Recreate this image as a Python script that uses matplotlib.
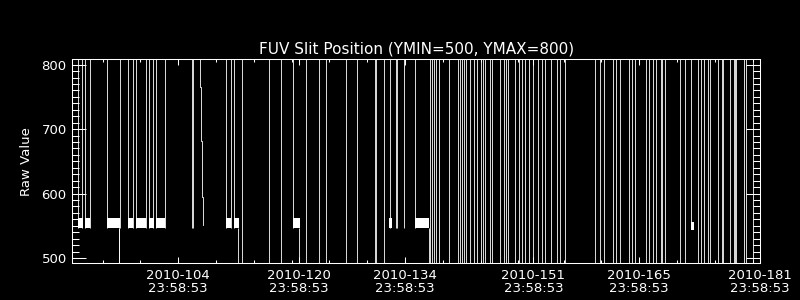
import numpy as np
import matplotlib
matplotlib.use('Agg')
from matplotlib import pyplot as plt
from matplotlib.ticker import MultipleLocator, FixedLocator

# x values are 2010 day-of-year, y values are raw slit position
# lines where the value jumps from below the range to above it
full_days = [112.47, 116.04, 117.62, 120.93, 122.65, 123.58, 126.22, 127.68,
             130.08, 130.2, 131.25,
             137.33, 137.60, 137.82, 138.13, 138.52, 139.85, 140.96, 141.30,
             141.57, 141.83, 142.10, 142.62, 143.15, 143.55, 144.00, 144.26,
             144.53, 145.27, 145.53, 146.59, 147.12, 147.39, 147.65, 148.58,
             149.11, 149.50, 149.90, 150.35, 150.89,
             151.62, 152.15, 152.51, 153.34, 154.13, 154.53, 155.15,
             159.16, 159.87, 160.31, 161.54, 161.94, 162.43, 163.62, 164.05,
             164.45, 165.83, 166.26, 166.83, 167.28, 167.85, 168.07, 168.42,
             170.36, 171.02, 172.78, 173.23, 173.58, 174.03, 174.42, 175.43,
             175.95, 176.07, 177.07, 177.51, 177.62, 177.74, 178.87, 179.19,
             180.02]
# jumps from the ~550 level up past the top
up_days = [90.77, 91.30, 91.70, 92.36, 94.61, 96.33, 97.39, 98.05, 98.44,
           99.76, 100.16, 100.69, 101.09, 102.29, 105.86, 105.99,
           110.35, 110.97, 111.41, 119.21, 132.0, 132.84, 132.97, 133.89,
           135.35, 171.91]
# drops from the ~550 level below the bottom
down_days = [96.1, 96.22, 111.94, 120.01, 137.16]
# stretches where the value flickers around 550
band_start = [90.77, 91.70, 94.57, 97.39, 98.44, 100.16, 101.09,
              110.35, 111.41, 119.21, 131.87, 135.35, 171.86]
band_end = [91.40, 92.36, 96.33, 98.05, 99.79, 100.79, 102.31,
            110.97, 111.99, 120.10, 132.23, 137.16, 172.21]
band_low = [547, 547, 547, 547, 547, 547, 547, 547, 547, 547, 547, 547, 544]
band_high = [562, 562, 562, 562, 562, 562, 562, 562, 562, 562, 562, 562, 556]
base_level = 547
# slow descent after day 106
ramp_days = [106.91, 107.04, 107.17, 107.31]
ramp_values = [810, 766, 681, 595, 551]

tick_days = [104, 120, 134, 151, 165, 181]
tick_labels = ['2010-%d\n23:58:53' % d for d in tick_days]
minor_days = [94, 99, 109, 114, 119, 124, 129, 139, 144, 149, 155, 160,
              170, 175, 180]

plt.rcParams['font.family'] = ['DejaVu Sans']
fig = plt.figure(figsize=(8, 3), dpi=100, facecolor='black')
ax = fig.add_axes([0.09, 0.1233, 0.8606, 0.6784], facecolor='black')

lw = 0.6
ax.vlines(full_days, 0, 1000, colors='white', linewidths=lw)
ax.vlines(up_days, base_level, 1000, colors='white', linewidths=lw)
ax.vlines(down_days, 0, base_level, colors='white', linewidths=lw)
for s, e, lo, hi in zip(band_start, band_end, band_low, band_high):
    ax.fill_between([s, e], lo, hi, color='white', lw=0)
ax.plot(np.repeat(ramp_days, 2), np.repeat(ramp_values, 2)[1:-1],
        color='white', lw=lw)

ax.set_xlim(89.94, 181.04)
ax.set_ylim(492.2, 808.1)

ax.xaxis.set_major_locator(FixedLocator(tick_days))
ax.xaxis.set_minor_locator(FixedLocator(minor_days))
ax.set_xticklabels(tick_labels)
for lab in ax.get_xticklabels():
    lab.set_linespacing(0.95)
ax.yaxis.set_major_locator(MultipleLocator(100))
ax.yaxis.set_minor_locator(MultipleLocator(10))

ax.tick_params(colors='white', direction='in', which='both', width=0.75,
               top=True, right=True, labelsize=9.5)
ax.tick_params(axis='x', which='major', length=4.3, pad=4.5)
ax.tick_params(axis='x', which='minor', length=2.2)
ax.tick_params(axis='y', which='major', length=10, pad=3.8)
ax.tick_params(axis='y', which='minor', length=5)
for sp in ax.spines.values():
    sp.set_color('white')
    sp.set_linewidth(0.75)

ax.set_title('FUV Slit Position (YMIN=500, YMAX=800)', color='white',
             fontsize=11, pad=4.5)
ax.set_ylabel('Raw Value', color='white', fontsize=9.5, va='center')
ax.yaxis.set_label_coords(-0.0654, 0.5)

fig.savefig('out.png', dpi=100, facecolor='black')
